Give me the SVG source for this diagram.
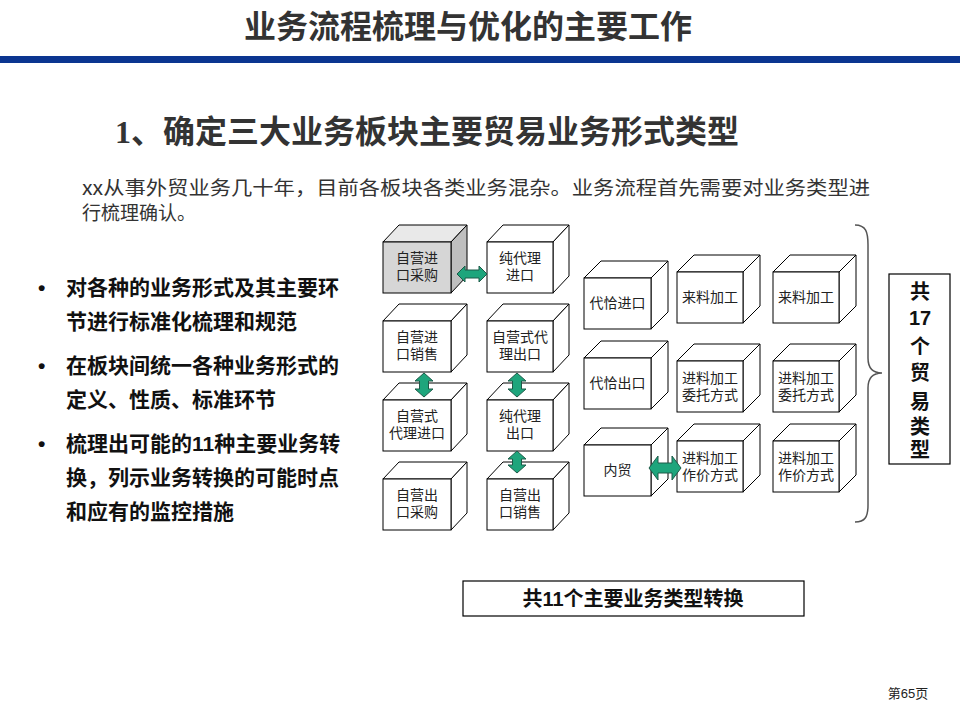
<svg xmlns="http://www.w3.org/2000/svg" width="960" height="720" viewBox="0 0 960 720">
<style>
.cf{fill:#fff;stroke:#000;stroke-width:1}
.g1{fill:#d6d6d6;stroke:#000;stroke-width:1}
.g2{fill:#e9e9e9;stroke:#000;stroke-width:1}
.g3{fill:#bfbfbf;stroke:#000;stroke-width:1}
.ct{font-family:"Liberation Sans","Noto Sans CJK SC",sans-serif;font-size:14px;fill:#222;text-anchor:middle}
.arr{fill:#1ea57c;stroke:#1d5a48;stroke-width:1}
.bul{font-family:"Liberation Sans","Noto Sans CJK SC",sans-serif;font-size:21px;font-weight:bold;fill:#111}
</style>
<rect width="960" height="720" fill="#fff"/>
<g id="header">
<text x="468" y="38" font-family="Noto Sans CJK SC,sans-serif" font-size="32" font-weight="bold" fill="#333" text-anchor="middle" textLength="448" lengthAdjust="spacingAndGlyphs">业务流程梳理与优化的主要工作</text>
<rect x="0" y="56" width="960" height="7" fill="#0b3590"/>
</g>
<g id="heading">
<text x="115" y="143" font-size="32" font-weight="bold" fill="#333"><tspan font-family="Liberation Serif,serif">1</tspan><tspan font-family="Noto Sans CJK SC,sans-serif">、确定三大业务板块主要贸易业务形式类型</tspan></text>
</g>
<g id="intro" font-family="Noto Sans CJK SC,sans-serif" font-size="19" fill="#333">
<text x="82" y="195" textLength="788" lengthAdjust="spacingAndGlyphs">xx从事外贸业务几十年，目前各板块各类业务混杂。业务流程首先需要对业务类型进</text>
<text x="82" y="220">行梳理确认。</text>
</g>
<g id="bullets">
<text class="bul" x="38" y="295">•</text>
<text class="bul" x="66" y="295">对各种的业务形式及其主要环</text>
<text class="bul" x="66" y="329">节进行标准化梳理和规范</text>
<text class="bul" x="38" y="373">•</text>
<text class="bul" x="66" y="373">在板块间统一各种业务形式的</text>
<text class="bul" x="66" y="407">定义、性质、标准环节</text>
<text class="bul" x="38" y="451">•</text>
<text class="bul" x="66" y="451">梳理出可能的11种主要业务转</text>
<text class="bul" x="66" y="485">换，列示业务转换的可能时点</text>
<text class="bul" x="66" y="519">和应有的监控措施</text>
</g>
<g id="n-zyjkcg">
<polygon class="g2" points="383,242 399,225 467,225 451,242"/>
<polygon class="g3" points="451,242 467,225 467,276 451,293"/>
<rect class="g1" x="383" y="242" width="68" height="51"/>
<text class="ct" x="417" y="263">自营进</text><text class="ct" x="417" y="280">口采购</text>
</g>
<g id="n-cdljk">
<polygon class="cf" points="487,242 503,225 569,225 553,242"/>
<polygon class="cf" points="553,242 569,225 569,276 553,293"/>
<rect class="cf" x="487" y="242" width="66" height="51"/>
<text class="ct" x="520" y="263">纯代理</text><text class="ct" x="520" y="280">进口</text>
</g>
<g id="n-zyjkxs">
<polygon class="cf" points="383,321 399,304 467,304 451,321"/>
<polygon class="cf" points="451,321 467,304 467,355 451,372"/>
<rect class="cf" x="383" y="321" width="68" height="51"/>
<text class="ct" x="417" y="342">自营进</text><text class="ct" x="417" y="359">口销售</text>
</g>
<g id="n-zysdlck">
<polygon class="cf" points="487,321 503,304 569,304 553,321"/>
<polygon class="cf" points="553,321 569,304 569,355 553,372"/>
<rect class="cf" x="487" y="321" width="66" height="51"/>
<text class="ct" x="520" y="342">自营式代</text><text class="ct" x="520" y="359">理出口</text>
</g>
<g id="n-zysdljk">
<polygon class="cf" points="383,400 399,383 467,383 451,400"/>
<polygon class="cf" points="451,400 467,383 467,434 451,451"/>
<rect class="cf" x="383" y="400" width="68" height="51"/>
<text class="ct" x="417" y="421">自营式</text><text class="ct" x="417" y="438">代理进口</text>
</g>
<g id="n-cdlck">
<polygon class="cf" points="487,400 503,383 569,383 553,400"/>
<polygon class="cf" points="553,400 569,383 569,434 553,451"/>
<rect class="cf" x="487" y="400" width="66" height="51"/>
<text class="ct" x="520" y="421">纯代理</text><text class="ct" x="520" y="438">出口</text>
</g>
<g id="n-zyckcg">
<polygon class="cf" points="383,479 399,462 467,462 451,479"/>
<polygon class="cf" points="451,479 467,462 467,513 451,530"/>
<rect class="cf" x="383" y="479" width="68" height="51"/>
<text class="ct" x="417" y="500">自营出</text><text class="ct" x="417" y="517">口采购</text>
</g>
<g id="n-zyckxs">
<polygon class="cf" points="487,479 503,462 569,462 553,479"/>
<polygon class="cf" points="553,479 569,462 569,513 553,530"/>
<rect class="cf" x="487" y="479" width="66" height="51"/>
<text class="ct" x="520" y="500">自营出</text><text class="ct" x="520" y="517">口销售</text>
</g>
<g id="n-dqjk">
<polygon class="cf" points="584,278 601,261 668,261 651,278"/>
<polygon class="cf" points="651,278 668,261 668,312 651,329"/>
<rect class="cf" x="584" y="278" width="67" height="51"/>
<text class="ct" x="617.5" y="308">代恰进口</text>
</g>
<g id="n-lljg1">
<polygon class="cf" points="677,272 694,255 760,255 743,272"/>
<polygon class="cf" points="743,272 760,255 760,306 743,323"/>
<rect class="cf" x="677" y="272" width="66" height="51"/>
<text class="ct" x="710" y="302">来料加工</text>
</g>
<g id="n-lljg2">
<polygon class="cf" points="773,272 790,255 856,255 839,272"/>
<polygon class="cf" points="839,272 856,255 856,306 839,323"/>
<rect class="cf" x="773" y="272" width="66" height="51"/>
<text class="ct" x="806" y="302">来料加工</text>
</g>
<g id="n-dqck">
<polygon class="cf" points="584,358 601,341 668,341 651,358"/>
<polygon class="cf" points="651,358 668,341 668,392 651,409"/>
<rect class="cf" x="584" y="358" width="67" height="51"/>
<text class="ct" x="617.5" y="388">代恰出口</text>
</g>
<g id="n-jljgwt1">
<polygon class="cf" points="677,361 694,344 760,344 743,361"/>
<polygon class="cf" points="743,361 760,344 760,395 743,412"/>
<rect class="cf" x="677" y="361" width="66" height="51"/>
<text class="ct" x="710" y="383">进料加工</text><text class="ct" x="710" y="400">委托方式</text>
</g>
<g id="n-jljgwt2">
<polygon class="cf" points="773,361 790,344 856,344 839,361"/>
<polygon class="cf" points="839,361 856,344 856,395 839,412"/>
<rect class="cf" x="773" y="361" width="66" height="51"/>
<text class="ct" x="806" y="383">进料加工</text><text class="ct" x="806" y="400">委托方式</text>
</g>
<g id="n-nm">
<polygon class="cf" points="584,445 601,428 668,428 651,445"/>
<polygon class="cf" points="651,445 668,428 668,479 651,496"/>
<rect class="cf" x="584" y="445" width="67" height="51"/>
<text class="ct" x="617.5" y="475">内贸</text>
</g>
<g id="n-jljgzj1">
<polygon class="cf" points="677,441 694,424 760,424 743,441"/>
<polygon class="cf" points="743,441 760,424 760,475 743,492"/>
<rect class="cf" x="677" y="441" width="66" height="51"/>
<text class="ct" x="710" y="463">进料加工</text><text class="ct" x="710" y="480">作价方式</text>
</g>
<g id="n-jljgzj2">
<polygon class="cf" points="773,441 790,424 856,424 839,441"/>
<polygon class="cf" points="839,441 856,424 856,475 839,492"/>
<rect class="cf" x="773" y="441" width="66" height="51"/>
<text class="ct" x="806" y="463">进料加工</text><text class="ct" x="806" y="480">作价方式</text>
</g>
<g id="connectors">
<polygon class="arr" points="457,274 465,266 465,270 479,270 479,266 487,274 479,282 479,278 465,278 465,282"/>
<polygon class="arr" points="649,468 658,456 658,463 672,463 672,456 681,468 672,480 672,473 658,473 658,480"/>
<polygon class="arr" points="424,373 433,381 428.5,381 428.5,389 433,389 424,397 415,389 419.5,389 419.5,381 415,381"/>
<polygon class="arr" points="517,373 526,381 521.5,381 521.5,389 526,389 517,397 508,389 512.5,389 512.5,381 508,381"/>
<polygon class="arr" points="517,451 526,459 521.5,459 521.5,465 526,465 517,473 508,465 512.5,465 512.5,459 508,459"/>
<path d="M855,225 C866,225 868,232 868,245 L868,358 C868,368 873,373 882,373 C873,373 868,378 868,388 L868,505 C868,517 865,522 855,522" fill="none" stroke="#555" stroke-width="1.5"/>
</g>
<g id="n-total17">
<rect x="889" y="274" width="61" height="190" fill="#fff" stroke="#000" stroke-width="1.2"/>
<g font-family="Liberation Sans,Noto Sans CJK SC,sans-serif" font-size="20" font-weight="bold" fill="#111" text-anchor="middle">
<text x="920" y="299">共</text>
<text x="920" y="325">17</text>
<text x="920" y="354">个</text>
<text x="920" y="380">贸</text>
<text x="920" y="409">易</text>
<text x="920" y="434">类</text>
<text x="920" y="457">型</text>
</g>
</g>
<g id="n-total11">
<rect x="463" y="581" width="341" height="35" fill="#fff" stroke="#000" stroke-width="1.2"/>
<text x="633" y="606" font-family="Liberation Sans,Noto Sans CJK SC,sans-serif" font-size="20" font-weight="bold" fill="#111" text-anchor="middle">共11个主要业务类型转换</text>
</g>
<g id="footer">
<text x="908" y="698" font-family="Liberation Sans,Noto Sans CJK SC,sans-serif" font-size="13" fill="#222" text-anchor="middle">第65页</text>
</g>
</svg>
